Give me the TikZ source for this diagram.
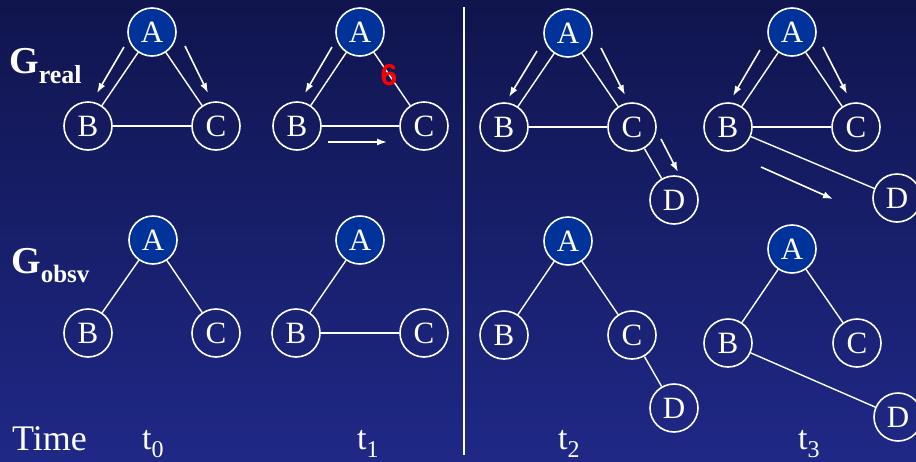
\documentclass[tikz,border=0pt]{standalone}
\usepackage{fontspec}
\setmainfont{Liberation Serif}
\newfontfamily\sixfont{Liberation Sans}
\usetikzlibrary{arrows.meta}
\definecolor{bgtop}{RGB}{16,21,78}
\definecolor{bgbot}{RGB}{31,40,134}
\definecolor{afill}{RGB}{0,51,153}
\begin{document}
\begin{tikzpicture}[x=1pt,y=-1pt,
  vtx/.style={circle,draw=white,line width=1.6pt,minimum size=48pt,inner sep=0pt,text=white,font=\fontsize{31}{31}\selectfont},
  avtx/.style={vtx,fill=afill},
  edge/.style={white,line width=1.4pt},
  flow/.style={white,line width=1.6pt,-{Latex[length=10pt,width=7pt]}},
  lbl/.style={text=white,inner sep=0pt,anchor=base west}]
\shade[top color=bgtop,bottom color=bgbot] (0,0) rectangle (916,461);
\useasboundingbox (0,0) rectangle (916,461);
% labels
\node[lbl,font=\fontsize{38}{38}\selectfont\bfseries] (greal) at (9,73) {G\raisebox{-10pt}{\fontsize{26}{26}\selectfont real}};
\node[lbl,font=\fontsize{38}{38}\selectfont\bfseries] (gobsv) at (11,273) {G\raisebox{-9pt}{\fontsize{25}{25}\selectfont obsv}};
\node[lbl,font=\fontsize{36}{36}\selectfont] (time) at (12,450) {Time};
\node[lbl,font=\fontsize{34}{34}\selectfont] (tt0) at (142,449) {t\raisebox{-8pt}{\fontsize{24}{24}\selectfont 0}};
\node[lbl,font=\fontsize{34}{34}\selectfont] (tt1) at (357,449) {t\raisebox{-8pt}{\fontsize{24}{24}\selectfont 1}};
\node[lbl,font=\fontsize{34}{34}\selectfont] (tt2) at (558,449) {t\raisebox{-8pt}{\fontsize{24}{24}\selectfont 2}};
\node[lbl,font=\fontsize{34}{34}\selectfont] (tt3) at (798,449) {t\raisebox{-8pt}{\fontsize{24}{24}\selectfont 3}};
% divider
\coordinate (dtop) at (464,7);
\coordinate (dbot) at (464,455);
\draw[white,line width=1.6pt] (dtop) -- (dbot);

% ---------- G_real t0
\node[avtx] (ra0) at (152,32) {A};
\node[vtx] (rb0) at (88,126) {B};
\node[vtx] (rc0) at (216,126) {C};
\draw[edge] (ra0) -- (rb0); \draw[edge] (ra0) -- (rc0); \draw[edge] (rb0) -- (rc0);
\coordinate (f1s) at (124,47); \coordinate (f1e) at (97,93);
\coordinate (f2s) at (185,46); \coordinate (f2e) at (208,93);
\draw[flow] (f1s) -- (f1e); \draw[flow] (f2s) -- (f2e);

% ---------- G_real t1
\node[avtx] (ra1) at (360,32) {A};
\node[vtx] (rb1) at (297,126) {B};
\node[vtx] (rc1) at (424,126) {C};
\draw[edge] (ra1) -- (rb1); \draw[edge] (ra1) -- (rc1); \draw[edge] (rb1) -- (rc1);
\coordinate (f3s) at (332,47); \coordinate (f3e) at (305,93);
\coordinate (f4s) at (328,142); \coordinate (f4e) at (387,142);
\draw[flow] (f3s) -- (f3e); \draw[flow] (f4s) -- (f4e);
\node[text=red,inner sep=0pt,font=\sixfont\bfseries\fontsize{30}{30}\selectfont] (six) at (389,75) {6};

% ---------- G_real t2
\node[avtx] (ra2) at (568,33) {A};
\node[vtx] (rb2) at (504,127) {B};
\node[vtx] (rc2) at (632,127) {C};
\node[vtx] (rd2) at (674,200) {D};
\draw[edge] (ra2) -- (rb2); \draw[edge] (ra2) -- (rc2); \draw[edge] (rb2) -- (rc2); \draw[edge] (rc2) -- (rd2);
\coordinate (f5s) at (537,51); \coordinate (f5e) at (509,97);
\coordinate (f6s) at (601,48); \coordinate (f6e) at (625,95);
\coordinate (f7s) at (661,139); \coordinate (f7e) at (678,172);
\draw[flow] (f5s) -- (f5e); \draw[flow] (f6s) -- (f6e); \draw[flow] (f7s) -- (f7e);

% ---------- G_real t3
\node[avtx] (ra3) at (792,32) {A};
\node[vtx] (rb3) at (728,127) {B};
\node[vtx] (rc3) at (856,127) {C};
\node[vtx] (rd3) at (897,198) {D};
\draw[edge] (ra3) -- (rb3); \draw[edge] (ra3) -- (rc3); \draw[edge] (rb3) -- (rc3); \draw[edge] (rb3) -- (rd3);
\coordinate (f8s) at (760,50); \coordinate (f8e) at (733,96);
\coordinate (f9s) at (823,47); \coordinate (f9e) at (847,94);
\coordinate (f10s) at (761,167); \coordinate (f10e) at (833,199);
\draw[flow] (f8s) -- (f8e); \draw[flow] (f9s) -- (f9e); \draw[flow] (f10s) -- (f10e);

% ---------- G_obsv t0
\node[avtx] (oa0) at (153,240) {A};
\node[vtx] (ob0) at (88,333) {B};
\node[vtx] (oc0) at (216,333) {C};
\draw[edge] (oa0) -- (ob0); \draw[edge] (oa0) -- (oc0);

% ---------- G_obsv t1
\node[avtx] (oa1) at (360,240) {A};
\node[vtx] (ob1) at (296,333) {B};
\node[vtx] (oc1) at (424,333) {C};
\draw[edge] (oa1) -- (ob1); \draw[edge] (ob1) -- (oc1);

% ---------- G_obsv t2
\node[avtx] (oa2) at (568,241) {A};
\node[vtx] (ob2) at (504,335) {B};
\node[vtx] (oc2) at (632,335) {C};
\node[vtx] (od2) at (674,408) {D};
\draw[edge] (oa2) -- (ob2); \draw[edge] (oa2) -- (oc2); \draw[edge] (oc2) -- (od2);

% ---------- G_obsv t3
\node[avtx] (oa3) at (792,249) {A};
\node[vtx] (ob3) at (728,343) {B};
\node[vtx] (oc3) at (857,343) {C};
\node[vtx] (od3) at (898,417) {D};
\draw[edge] (oa3) -- (ob3); \draw[edge] (oa3) -- (oc3); \draw[edge] (ob3) -- (od3);
\end{tikzpicture}
\end{document}
